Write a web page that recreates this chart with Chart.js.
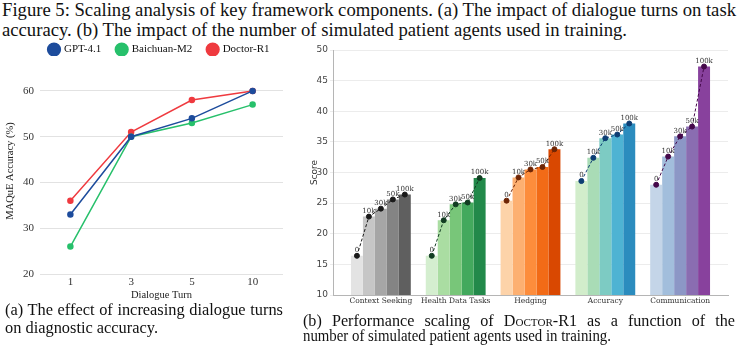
<!DOCTYPE html>
<html>
<head>
<meta charset="utf-8">
<script src="https://cdn.jsdelivr.net/npm/chart.js@4.4.0/dist/chart.umd.min.js"></script>
<style>
  body { margin: 0; background: #fff; width: 740px; height: 347px; overflow: hidden; position: relative;
         font-family: 'Liberation Serif', 'Times New Roman', serif; color: #111; }
  .cap { position: absolute; white-space: nowrap; transform-origin: 0 0; }
  #box-a { position: absolute; left: 0; top: 40px; width: 295px; height: 262px; }
  #box-b { position: absolute; left: 300px; top: 40px; width: 440px; height: 272px; }
</style>
</head>
<body>
<!-- caption blocks: last line squeezed to data-w, other lines justified to data-w
     (data-ws: own word spacing, line squeezed on its own) -->
<div class="cap" data-block="main" data-w="734" style="left:2px; top:-1px; font-size:19px;">Figure 5: Scaling analysis of key framework components. (a) The impact of dialogue turns on task</div>
<div class="cap" data-block="main" data-w="625" data-last="1" style="left:2px; top:19px; font-size:19px;">accuracy. (b) The impact of the number of simulated patient agents used in training.</div>

<div id="box-a"><canvas id="chartA"></canvas></div>
<div id="box-b"><canvas id="chartB"></canvas></div>

<div class="cap" data-block="a" data-w="278" style="left:5px; top:301px; font-size:16px;">(a) The effect of increasing dialogue turns</div>
<div class="cap" data-block="a" data-w="153" data-last="1" style="left:5px; top:319px; font-size:16px;">on diagnostic accuracy.</div>
<div class="cap" data-block="b" data-w="432" data-ws="6" style="left:303px; top:312px; font-size:16px;">(b) Performance scaling of D<span style="font-variant: small-caps">octor</span>-R1 as a function of the</div>
<div class="cap" data-block="b" data-w="308" data-last="1" style="left:303px; top:327px; font-size:16px;">number of simulated patient agents used in training.</div>

<script>
// (a) dialogue turns
const turns = ['1', '3', '5', '10'];
const gpt41 = [33, 50, 54, 60];
const baichuanM2 = [26, 50, 53, 57];
const doctorR1 = [36, 51, 58, 60];

// (b) number of simulated patient agents
const tasks = ['Context Seeking', 'Health Data Tasks', 'Hedging', 'Accuracy', 'Communication'];
const agentCounts = ['0', '10k', '30k', '50k', '100k'];
const contextSeeking = [16.4, 22.8, 24.1, 25.6, 26.4];
const healthData = [16.4, 22.2, 24.8, 25.1, 29.1];
const hedging = [25.4, 29.2, 30.5, 30.9, 33.8];
const accuracy = [28.6, 32.4, 35.6, 36.2, 38.0];
const communication = [28.0, 32.6, 35.9, 37.5, 47.3];

const scores = [contextSeeking, healthData, hedging, accuracy, communication];

// colour ramps, light -> dark, one per task
const shades = [
    ['#e3e3e3', '#c6c6c6', '#a6a6a6', '#848484', '#5f5f5f'],
    ['#d4eecf', '#aadda2', '#78c679', '#43a95d', '#22894a'],
    ['#fdd3a9', '#fdb071', '#fd8d3c', '#f26b17', '#d94801'],
    ['#d2edcb', '#a9dcb6', '#7dcbc3', '#4eb3d3', '#2b8cbe'],
    ['#c4d5e8', '#a2bedc', '#8c97c6', '#8a6db1', '#88419d']
];
const lineColors = ['#1a1a1a', '#123d22', '#6e2505', '#0d3d73', '#45094a'];

Chart.defaults.animation = false;

// legend sits high, with a gap under it before the plot
const legendTweak = {
    id: 'legendTweak',
    beforeInit(chart) {
        const fit = chart.legend.fit;
        chart.legend.fit = function () { fit.call(this); this.height = 28; };
    },
    afterLayout(chart) {
        const lg = chart.legend;
        lg.top -= 12; lg.bottom -= 12;
        lg.left += 18; lg.right += 18;
    }
};

new Chart(document.getElementById('chartA'), {
    type: 'line',
    data: {
        labels: turns,
        datasets: [
            { label: 'GPT-4.1', data: gpt41, borderColor: '#1d4c9c', backgroundColor: '#1d4c9c' },
            { label: 'Baichuan-M2', data: baichuanM2, borderColor: '#27c06b', backgroundColor: '#27c06b' },
            { label: 'Doctor-R1', data: doctorR1, borderColor: '#ef3a3f', backgroundColor: '#ef3a3f' }
        ].map(d => Object.assign(d, { borderWidth: 1.5, pointRadius: 2.5, tension: 0, clip: false }))
    },
    plugins: [legendTweak],
    options: {
        responsive: true,
        maintainAspectRatio: false,
        layout: { padding: { top: 0, right: 12, left: 0 } },
        plugins: {
            tooltip: { enabled: false },
            legend: {
                position: 'top',
                labels: {
                    usePointStyle: true, pointStyle: 'circle', boxWidth: 9, boxHeight: 9,
                    padding: 16, color: '#111',
                    font: { family: 'Liberation Serif', size: 11 }
                }
            }
        },
        scales: {
            x: {
                offset: true,
                grid: { display: false, drawTicks: false },
                border: { display: false },
                ticks: { color: '#333', font: { family: 'Liberation Serif', size: 11 }, padding: 2 },
                title: { display: true, text: 'Dialogue Turn', color: '#222', padding: 0,
                         font: { family: 'Liberation Serif', size: 10.5 } },
                afterFit: s => { s.height = 28; }
            },
            y: {
                min: 20, max: 65,
                afterBuildTicks: s => { s.ticks = s.ticks.filter(t => t.value % 10 === 0); },
                ticks: { stepSize: 10, color: '#333', font: { family: 'Liberation Serif', size: 11 }, padding: 6 },
                grid: { color: '#e2e2e2', drawTicks: false },
                border: { display: false },
                title: { display: true, text: 'MAQuE Accuracy (%)', color: '#222', padding: { top: 4, bottom: 0 },
                         font: { family: 'Liberation Serif', size: 10.5 } },
                afterFit: s => { s.width = 40; }
            }
        }
    }
});

// bar width in x units: categoryPercentage / number of bars per group
const barStep = 0.8 / agentCounts.length;

const barSets = agentCounts.map((a, k) => ({
    type: 'bar',
    label: a,
    order: 2,
    data: tasks.map((t, i) => ({ x: i, y: scores[i][k] })),
    backgroundColor: tasks.map((t, i) => shades[i][k]),
    categoryPercentage: 0.8,
    barPercentage: 1.0
}));

const lineSets = tasks.map((t, i) => ({
    type: 'line',
    label: t,
    order: 1,
    data: agentCounts.map((a, k) => ({ x: i + (k - 2) * barStep, y: scores[i][k] })),
    borderColor: lineColors[i],
    backgroundColor: lineColors[i],
    borderWidth: 1,
    borderDash: [3, 2],
    pointRadius: 2.5,
    tension: 0
}));

const pointLabels = {
    id: 'pointLabels',
    afterDatasetsDraw(chart) {
        const ctx = chart.ctx;
        ctx.save();
        ctx.font = '7px "DejaVu Serif"';
        ctx.fillStyle = '#333';
        ctx.textAlign = 'center';
        ctx.textBaseline = 'bottom';
        chart.data.datasets.forEach((ds, di) => {
            if (ds.type !== 'line') return;
            chart.getDatasetMeta(di).data.forEach((pt, k) => {
                ctx.fillText(agentCounts[k], pt.x, pt.y - 2);
            });
        });
        ctx.restore();
    }
};

new Chart(document.getElementById('chartB'), {
    data: { datasets: [...barSets, ...lineSets] },
    plugins: [pointLabels],
    options: {
        responsive: true,
        maintainAspectRatio: false,
        layout: { padding: { top: 10, right: 12 } },
        plugins: { legend: { display: false }, tooltip: { enabled: false } },
        scales: {
            x: {
                type: 'linear',
                offset: false,
                min: -0.64, max: 4.64,
                grid: { display: false, drawTicks: false },
                border: { color: '#b5b5b5' },
                afterBuildTicks: s => { s.ticks = tasks.map((t, i) => ({ value: i })); },
                ticks: {
                    autoSkip: false, maxRotation: 0, color: '#333', padding: 2,
                    font: { family: 'DejaVu Serif', size: 7.5 },
                    callback: v => tasks[Math.round(v)]
                },
                afterFit: s => { s.height = 17; }
            },
            y: {
                min: 10, max: 50,
                ticks: { stepSize: 5, color: '#444', font: { family: 'DejaVu Sans', size: 9 }, padding: 2 },
                grid: { color: '#ececec', tickLength: 3 },
                border: { color: '#b5b5b5' },
                title: { display: true, text: 'Score', color: '#333', padding: { top: 9, bottom: 0 },
                         font: { family: 'DejaVu Sans', size: 9 } },
                afterFit: s => { s.width = 33; }
            }
        }
    }
});

// caption lines
const blocks = {};
document.querySelectorAll('.cap').forEach(el => {
    (blocks[el.dataset.block] = blocks[el.dataset.block] || []).push(el);
});
Object.values(blocks).forEach(lines => {
    const last = lines.find(el => el.dataset.last);
    const k = last.dataset.w / last.getBoundingClientRect().width;
    lines.forEach(el => {
        let s = k;
        if (el.dataset.ws) {
            el.style.wordSpacing = el.dataset.ws + 'px';
            s = el.dataset.w / el.getBoundingClientRect().width;
        } else if (el !== last) {
            const natural = el.getBoundingClientRect().width;
            const gaps = (el.textContent.match(/ /g) || []).length;
            el.style.wordSpacing = ((el.dataset.w / k - natural) / gaps) + 'px';
        }
        el.style.transform = `scaleX(${s})`;
    });
});
</script>
</body>
</html>
